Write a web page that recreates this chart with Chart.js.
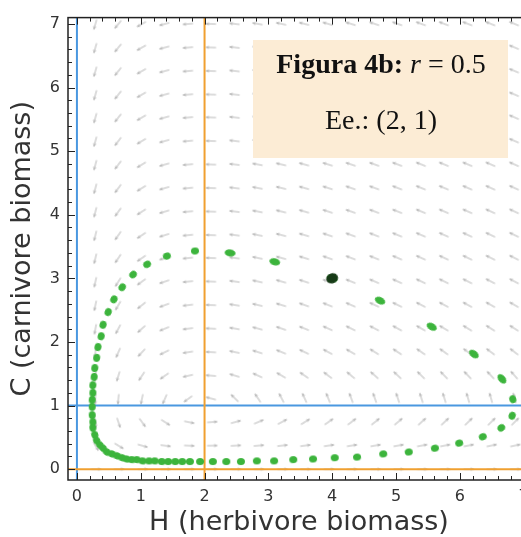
<!DOCTYPE html>
<html>
<head>
<meta charset="utf-8">
<script src="https://cdn.jsdelivr.net/npm/chart.js@4"></script>
<style>
    html, body { margin: 0; padding: 0; background: #fff; overflow: hidden; }
    #wrap { width: 540px; height: 537px; }
</style>
</head>
<body>
<div id="wrap"><canvas id="phaseChart" width="540" height="537"></canvas></div>
<script>
// Phase plane, herbivore / carnivore model (Figura 4b)

// Axis ticks
const xTicks = [0, 1, 2, 3, 4, 5, 6, 7];
const yTicks = [0, 1, 2, 3, 4, 5, 6, 7];

// Model values shown in the label box
const rValue = 0.5;
const eqH = 2;
const eqC = 1;

// Direction field grid
const fieldH = [0.29, 0.65, 1.02, 1.38, 1.75, 2.11, 2.48, 2.84, 3.21, 3.57, 3.94, 4.30, 4.67, 5.03, 5.40, 5.76, 6.13, 6.49, 6.86];
const fieldC = [0, 0.37, 0.74, 1.11, 1.47, 1.84, 2.21, 2.58, 2.95, 3.32, 3.68, 4.05, 4.42, 4.79, 5.16, 5.53, 5.89, 6.26, 6.63, 7.0];

// Trajectory dots, starting at the black point
const trajH = [4.0, 3.10, 2.40, 1.85, 1.41, 1.10, 0.88, 0.71, 0.58, 0.49, 0.41, 0.38, 0.33, 0.31, 0.28, 0.27, 0.25, 0.25, 0.24, 0.24,
    0.24, 0.25, 0.25, 0.28, 0.31, 0.36, 0.41, 0.47, 0.55, 0.63, 0.71, 0.78, 0.86, 0.94, 1.03, 1.13, 1.22, 1.33, 1.43, 1.54,
    1.65, 1.77, 1.93, 2.13, 2.34, 2.57, 2.82, 3.09, 3.39, 3.70, 4.04, 4.39, 4.80, 5.20, 5.61, 5.99, 6.36, 6.65, 6.82, 6.83,
    6.66, 6.22, 5.56, 4.75];
const trajC = [3.0, 3.26, 3.40, 3.43, 3.35, 3.22, 3.06, 2.86, 2.67, 2.47, 2.27, 2.09, 1.92, 1.75, 1.59, 1.45, 1.32, 1.20, 1.09, 0.98,
    0.85, 0.74, 0.65, 0.54, 0.45, 0.38, 0.33, 0.27, 0.24, 0.21, 0.18, 0.16, 0.15, 0.15, 0.13, 0.13, 0.13, 0.12, 0.12, 0.12,
    0.12, 0.12, 0.12, 0.12, 0.12, 0.12, 0.13, 0.13, 0.15, 0.16, 0.18, 0.19, 0.24, 0.27, 0.33, 0.41, 0.51, 0.65, 0.84, 1.10,
    1.42, 1.81, 2.24, 2.65];

const startH = [4];
const startC = [3];

// small grey arrow used for the direction field
function makeArrow() {
    const c = document.createElement('canvas');
    c.width = 14;
    c.height = 8;
    const g = c.getContext('2d');
    g.strokeStyle = 'rgba(150,150,150,0.45)';
    g.lineWidth = 1.3;
    g.lineCap = 'round';
    g.beginPath();
    g.moveTo(3, 4);
    g.lineTo(12, 4);
    g.stroke();
    g.beginPath();
    g.moveTo(10, 3);
    g.lineTo(12, 4);
    g.lineTo(10, 5);
    g.stroke();
    return c;
}

// oval marker for the trajectory, stretched along the path
function makeDot(w, h, color) {
    const c = document.createElement('canvas');
    c.width = w + 2;
    c.height = h + 2;
    const g = c.getContext('2d');
    g.fillStyle = color;
    g.beginPath();
    g.ellipse(c.width / 2, c.height / 2, w / 2, h / 2, 0, 0, Math.PI * 2);
    g.fill();
    return c;
}

const fieldPoints = [];
const fieldAngles = [];
fieldC.forEach(c => {
    fieldH.forEach(h => {
        const dH = h * (eqC - c);
        const dC = rValue * c * (h - eqH);
        fieldPoints.push({ x: h, y: c });
        fieldAngles.push(-Math.atan2(dC, dH) * 180 / Math.PI);
    });
});

// marker direction follows the neighbouring dots
const trajPoints = trajH.map((h, i) => ({ x: h, y: trajC[i] }));
const trajAngles = trajH.map((h, i) => {
    const n = (i + 1) % trajH.length;
    const p = (i - 1 + trajH.length) % trajH.length;
    return -Math.atan2(trajC[n] - trajC[p], trajH[n] - trajH[p]) * 180 / Math.PI;
});
const dotRound = makeDot(8, 7, '#3cb43c');
const dotLong = makeDot(11, 7, '#3cb43c');
const trajStyles = trajH.map((h, i) => {
    const n = (i + 1) % trajH.length;
    const gap = Math.hypot(trajH[n] - h, trajC[n] - trajC[i]);
    return gap > 0.5 ? dotLong : dotRound;
});

function lineSet(points, color) {
    return {
        type: 'line',
        data: points,
        borderColor: color,
        borderWidth: 2,
        pointRadius: 0,
        showLine: true,
        order: 3
    };
}

// frame, inward ticks and the label box
const framePlugin = {
    id: 'frame',
    afterDatasetsDraw(chart) {
        const { ctx, chartArea: a, scales: { x, y } } = chart;
        ctx.save();

        // label box
        ctx.fillStyle = '#fcecd5';
        ctx.fillRect(253, 40, 255, 118);
        ctx.fillStyle = '#111';
        ctx.textBaseline = 'alphabetic';
        const parts = [
            { t: 'Figura 4b: ', f: 'bold 28px "Liberation Serif"' },
            { t: 'r', f: 'italic 28px "Liberation Serif"' },
            { t: ' = ' + rValue, f: '28px "Liberation Serif"' }
        ];
        let total = 0;
        parts.forEach(p => { ctx.font = p.f; p.w = ctx.measureText(p.t).width; total += p.w; });
        let px = 381 - total / 2;
        parts.forEach(p => { ctx.font = p.f; ctx.fillText(p.t, px, 73); px += p.w; });
        ctx.font = '28px "Liberation Serif"';
        ctx.textAlign = 'center';
        ctx.fillText('Ee.: (' + eqH + ', ' + eqC + ')', 381, 129);

        // frame
        ctx.strokeStyle = '#222';
        ctx.lineWidth = 1.5;
        ctx.strokeRect(a.left, a.top, a.right - a.left, a.bottom - a.top);

        ctx.lineWidth = 1;
        ctx.beginPath();
        for (let i = 0; i <= 35; i++) {
            const v = i / 5;
            const len = i % 5 === 0 ? 7 : 4;
            const px2 = Math.round(x.getPixelForValue(v)) + 0.5;
            ctx.moveTo(px2, a.bottom); ctx.lineTo(px2, a.bottom - len);
            ctx.moveTo(px2, a.top); ctx.lineTo(px2, a.top + len);
            const py = Math.round(y.getPixelForValue(v)) + 0.5;
            ctx.moveTo(a.left, py); ctx.lineTo(a.left + len, py);
            ctx.moveTo(a.right, py); ctx.lineTo(a.right - len, py);
        }
        ctx.stroke();
        ctx.restore();
    }
};

const tickFont = { family: 'DejaVu Sans', size: 16 };
const titleFont = { family: 'DejaVu Sans', size: 27 };

new Chart(document.getElementById('phaseChart'), {
    type: 'scatter',
    data: {
        datasets: [
            {
                data: startH.map((h, i) => ({ x: h, y: startC[i] })),
                pointStyle: makeDot(12, 10, '#163a16'),
                pointRotation: -20,
                order: 0
            },
            {
                data: trajPoints,
                pointStyle: trajStyles,
                pointRotation: trajAngles,
                order: 1
            },
            lineSet([{ x: -1, y: 0 }, { x: 8, y: 0 }], '#f0a030'),
            lineSet([{ x: eqH, y: -1 }, { x: eqH, y: 8 }], '#f0a030'),
            lineSet([{ x: 0, y: -1 }, { x: 0, y: 8 }], '#4a98e0'),
            lineSet([{ x: -1, y: eqC }, { x: 8, y: eqC }], '#4a98e0'),
            {
                data: fieldPoints,
                pointStyle: makeArrow(),
                pointRotation: fieldAngles,
                order: 5
            }
        ]
    },
    options: {
        responsive: false,
        animation: false,
        layout: { padding: { top: 17, right: 10, left: 0, bottom: 0 } },
        plugins: {
            legend: { display: false },
            tooltip: { enabled: false }
        },
        scales: {
            x: {
                type: 'linear',
                min: -0.14,
                max: 7.1,
                grid: { display: false, drawTicks: false },
                border: { display: false },
                afterBuildTicks: s => { s.ticks = xTicks.map(v => ({ value: v })); },
                afterFit: s => { s.height = 57; },
                ticks: { font: tickFont, color: '#333', padding: 7, maxRotation: 0, autoSkip: false, callback: v => String(v) },
                title: { display: true, text: 'H (herbivore biomass)', font: titleFont, color: '#333', padding: { top: 0, bottom: -2 } }
            },
            y: {
                type: 'linear',
                min: -0.17,
                max: 7.1,
                grid: { display: false, drawTicks: false },
                border: { display: false },
                afterBuildTicks: s => { s.ticks = yTicks.map(v => ({ value: v })); },
                afterFit: s => { s.width = 68; },
                ticks: { font: tickFont, color: '#333', padding: 8, autoSkip: false, callback: v => String(v) },
                title: { display: true, text: 'C (carnivore biomass)', font: titleFont, color: '#333', padding: { top: 7, bottom: 0 } }
            }
        }
    },
    plugins: [framePlugin]
});
</script>
</body>
</html>
